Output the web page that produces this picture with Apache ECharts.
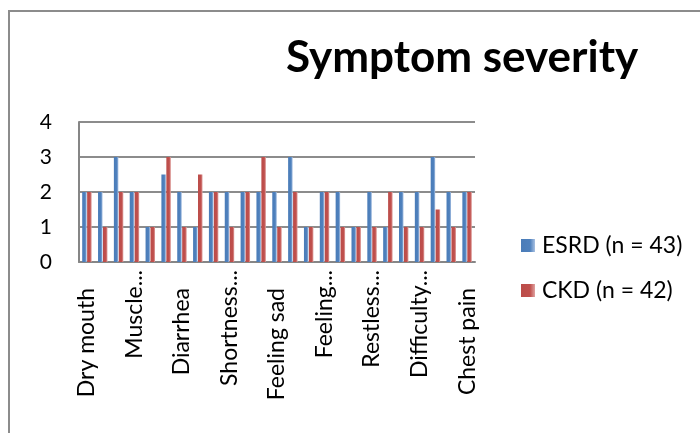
<!DOCTYPE html>
<html>
<head>
<meta charset="utf-8">
<script src="https://cdn.jsdelivr.net/npm/echarts@6/dist/echarts.min.js"></script>
<style>
  html, body { margin: 0; padding: 0; background: #fff; }
  #chart { width: 700px; height: 433px; }
</style>
</head>
<body>
<div id="chart"></div>
<script>
// Symptoms in chart order
const symptoms = [
  'Dry mouth', 'Constipation', 'Nausea', 'Muscle cramps', 'Muscle soreness',
  'Decreased appetite', 'Diarrhea', 'Vomiting', 'Swelling in legs',
  'Shortness of breath', 'Lightheadedness', 'Cough', 'Feeling sad',
  'Feeling anxious', 'Headache', 'Feeling irritable', 'Worrying',
  'Trouble falling asleep', 'Restless legs', 'Itching', 'Dry skin',
  'Difficulty concentrating', 'Feeling tired', 'Bone or joint pain', 'Chest pain'
];

// Labels printed under every third category
const tickLabels = [
  'Dry mouth', 'Muscle...', 'Diarrhea', 'Shortness...', 'Feeling sad',
  'Feeling...', 'Restless...', 'Difficulty...', 'Chest pain'
];

const esrd = [2, 2, 3, 2, 1, 2.5, 2, 1, 2, 2, 2, 2, 2, 3, 1, 2, 2, 1, 2, 1, 2, 2, 3, 2, 2];
const ckd  = [2, 1, 2, 2, 1, 3, 1, 2.5, 2, 1, 2, 3, 1, 2, 1, 2, 1, 1, 1, 2, 1, 1, 1.5, 1, 2];

const yTicks = { min: 0, max: 4, interval: 1 };

const chart = echarts.init(document.getElementById('chart'), null, { renderer: 'canvas' });

function shade(c0, c1, c2) {
  return new echarts.graphic.LinearGradient(0, 0, 1, 0, [
    { offset: 0, color: c0 },
    { offset: 0.65, color: c1 },
    { offset: 1, color: c2 }
  ]);
}

const font = 'Lato, "Open Sans", sans-serif';
const catFont = 23;

chart.setOption({
  animation: false,
  backgroundColor: '#ffffff',
  textStyle: { fontFamily: font },
  title: {
    text: 'Symptom severity',
    left: 281,
    top: 31,
    textStyle: { fontFamily: font, fontSize: 44, fontWeight: 'bold', color: '#000' }
  },
  graphic: [{
    type: 'rect',
    shape: { x: 9, y: 11, width: 720, height: 440 },
    style: { fill: 'none', stroke: '#8c8c8c', lineWidth: 2 },
    silent: true
  }],
  legend: {
    orient: 'vertical',
    left: 516,
    top: 229,
    itemWidth: 14,
    itemHeight: 13,
    itemGap: 22,
    icon: 'rect',
    textStyle: { fontFamily: font, fontSize: 23, color: '#000', padding: [0, 0, 0, 2] },
    data: ['ESRD (n = 43)', 'CKD (n = 42)']
  },
  grid: { left: 79, right: 225, top: 122, bottom: 171, containLabel: false },
  xAxis: {
    type: 'category',
    data: symptoms,
    axisLine: { lineStyle: { color: '#868686', width: 2 } },
    axisTick: { show: false },
    axisLabel: {
      interval: 2,
      rotate: 90,
      margin: 8,
      color: '#000',
      fontFamily: font,
      fontSize: catFont,
      formatter: function (value, index) {
        const t = tickLabels[index / 3];
        if (t === undefined) return '';
        return t.endsWith('...') ? '{cut|' + t + '}' : '{full|' + t + '}';
      },
      rich: {
        cut: { fontFamily: font, fontSize: catFont, color: '#000' },
        full: { fontFamily: font, fontSize: catFont, color: '#000', padding: [0, 18, 0, 0] }
      }
    }
  },
  yAxis: {
    type: 'value',
    min: yTicks.min,
    max: yTicks.max,
    interval: yTicks.interval,
    axisLine: { show: true, lineStyle: { color: '#868686', width: 2 } },
    axisTick: { show: false },
    splitLine: { lineStyle: { color: '#8c8c8c', width: 2 } },
    axisLabel: { margin: 27, color: '#000', fontFamily: font, fontSize: 21 }
  },
  series: [
    {
      name: 'ESRD (n = 43)',
      type: 'bar',
      data: esrd,
      barWidth: 4.5,
      barGap: '10%',
      color: '#4F81BD',
      itemStyle: { color: shade('#4a7cb8', '#4F81BD', '#a9c1e2') }
    },
    {
      name: 'CKD (n = 42)',
      type: 'bar',
      data: ckd,
      barWidth: 4.5,
      color: '#C0504D',
      itemStyle: { color: shade('#bb4c49', '#C0504D', '#e0a3a1') }
    }
  ]
});
</script>
</body>
</html>
